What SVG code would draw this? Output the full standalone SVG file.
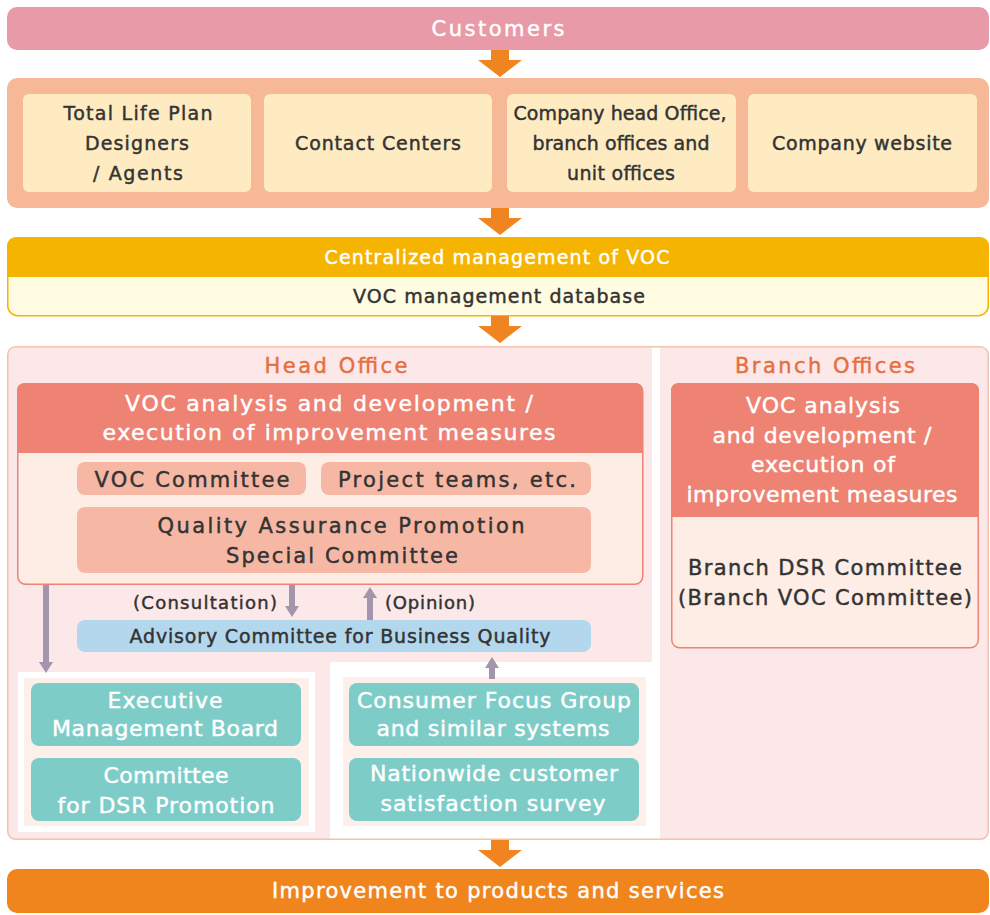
<svg xmlns="http://www.w3.org/2000/svg" width="990" height="915" viewBox="0 0 990 915">
<style>
text{font-family:"DejaVu Sans","Liberation Sans",Arial,sans-serif;text-anchor:middle;stroke-width:0.45px}
.w{fill:#ffffff;stroke:#ffffff}
.d{fill:#333333;stroke:#333333}
.o{fill:#E4703F;stroke:#E4703F}
.f19{font-size:19px}
.f18{font-size:18px}
.f21{font-size:21px}
.f22{font-size:22px}
.chan{fill:#FEEBC1}
.pink{fill:#F6B8A5}
.teal{fill:#7ECCC8}
.oarr{fill:#EF8420}
.garr{fill:#A295AC}
</style>
<rect x="0" y="0" width="990" height="915" fill="#ffffff"/>

<g id="customers">
<rect x="7" y="7" width="982" height="43" rx="10" fill="#E99AA8"/>
<text class="w f21" x="498" y="35.5" textLength="133" lengthAdjust="spacing">Customers</text>
</g>

<g id="channels">
<rect x="7" y="78" width="982" height="130" rx="10" fill="#F6B896"/>
<g id="ch-designers">
<rect class="chan" x="23" y="94" width="228" height="98" rx="6"/>
<text class="d f19" x="138" y="120" textLength="149" lengthAdjust="spacing">Total Life Plan</text>
<text class="d f19" x="137" y="150" textLength="104" lengthAdjust="spacing">Designers</text>
<text class="d f19" x="138" y="180" textLength="90" lengthAdjust="spacing">/ Agents</text>
</g>
<g id="ch-contact">
<rect class="chan" x="264" y="94" width="228" height="98" rx="6"/>
<text class="d f19" x="378" y="150" textLength="166" lengthAdjust="spacing">Contact Centers</text>
</g>
<g id="ch-offices">
<rect class="chan" x="507" y="94" width="229" height="98" rx="6"/>
<text class="d f19" x="620" y="120" textLength="213" lengthAdjust="spacing">Company head Office,</text>
<text class="d f19" x="621" y="150" textLength="177" lengthAdjust="spacing">branch offices and</text>
<text class="d f19" x="621" y="180" textLength="108" lengthAdjust="spacing">unit offices</text>
</g>
<g id="ch-website">
<rect class="chan" x="748" y="94" width="229" height="98" rx="6"/>
<text class="d f19" x="862" y="150" textLength="180" lengthAdjust="spacing">Company website</text>
</g>
</g>

<g id="centralized">
<rect x="7.75" y="237.75" width="980.5" height="78" rx="10" fill="#FFFCE1" stroke="#F5B400" stroke-width="1.5"/>
<path d="M7,277 V247 Q7,237 17,237 H979 Q989,237 989,247 V277 Z" fill="#F5B400"/>
<text class="w f19" x="497" y="264" textLength="345" lengthAdjust="spacing">Centralized management of VOC</text>
<text class="d f19" x="499" y="303" textLength="292" lengthAdjust="spacing">VOC management database</text>
</g>

<g id="panel">
<rect x="7.75" y="346.75" width="980.5" height="492.5" rx="8" fill="#FCE8E8"/>
<rect x="652" y="347" width="8" height="492" fill="#ffffff"/>
<rect x="18" y="672" width="297" height="160" fill="#ffffff"/>
<rect x="24" y="678" width="285" height="148" fill="#FDEFE9"/>
<rect x="330" y="662" width="322" height="177" fill="#ffffff"/>
<rect x="343" y="677" width="303" height="149" fill="#FDEFE9"/>
<rect x="7.75" y="346.75" width="980.5" height="492.5" rx="8" fill="none" stroke="#F3C2AA" stroke-width="1.5"/>
<text class="o f21" x="336" y="372.5" textLength="143" lengthAdjust="spacing">Head Office</text>
<text class="o f21" x="825" y="372.5" textLength="180" lengthAdjust="spacing">Branch Offices</text>
</g>

<g id="ho-analysis">
<rect x="17.75" y="383.75" width="625" height="200.5" rx="8" fill="#FDEDE5" stroke="#EE8273" stroke-width="1.5"/>
<path d="M17,453 V391 Q17,383 25,383 H635 Q643,383 643,391 V453 Z" fill="#EE8273"/>
<text class="w f22" x="329" y="411" textLength="408" lengthAdjust="spacing">VOC analysis and development /</text>
<text class="w f22" x="329" y="440" textLength="453" lengthAdjust="spacing">execution of improvement measures</text>
</g>
<g id="voc-committee">
<rect class="pink" x="77" y="462" width="229" height="33" rx="8"/>
<text class="d f21" x="192" y="486.5" textLength="195" lengthAdjust="spacing">VOC Committee</text>
</g>
<g id="project-teams">
<rect class="pink" x="321" y="462" width="270" height="33" rx="8"/>
<text class="d f21" x="457" y="486.5" textLength="238" lengthAdjust="spacing">Project teams, etc.</text>
</g>
<g id="qa-committee">
<rect class="pink" x="77" y="507" width="514" height="66" rx="8"/>
<text class="d f21" x="341" y="532.5" textLength="367" lengthAdjust="spacing">Quality Assurance Promotion</text>
<text class="d f21" x="342" y="562.5" textLength="232" lengthAdjust="spacing">Special Committee</text>
</g>

<g id="advisory">
<rect x="77" y="620" width="514" height="32" rx="8" fill="#B3D8EE"/>
<text class="d f19" x="340" y="643" textLength="421" lengthAdjust="spacing">Advisory Committee for Business Quality</text>
</g>

<g id="exec-board">
<rect class="teal" x="31" y="683" width="270" height="63" rx="8"/>
<text class="w f22" x="165" y="708" textLength="115" lengthAdjust="spacing">Executive</text>
<text class="w f22" x="165" y="736" textLength="226" lengthAdjust="spacing">Management Board</text>
</g>
<g id="dsr-committee">
<rect class="teal" x="31" y="758" width="270" height="63" rx="8"/>
<text class="w f22" x="166" y="783" textLength="125" lengthAdjust="spacing">Committee</text>
<text class="w f22" x="166" y="813" textLength="217" lengthAdjust="spacing">for DSR Promotion</text>
</g>
<g id="focus-group">
<rect class="teal" x="349" y="683" width="290" height="63" rx="8"/>
<text class="w f22" x="494" y="708" textLength="274" lengthAdjust="spacing">Consumer Focus Group</text>
<text class="w f22" x="493" y="736" textLength="233" lengthAdjust="spacing">and similar systems</text>
</g>
<g id="survey">
<rect class="teal" x="349" y="758" width="290" height="63" rx="8"/>
<text class="w f22" x="494" y="781" textLength="248" lengthAdjust="spacing">Nationwide customer</text>
<text class="w f22" x="493" y="811" textLength="225" lengthAdjust="spacing">satisfaction survey</text>
</g>

<g id="branch-analysis">
<rect x="671.75" y="383.75" width="306.5" height="264" rx="8" fill="#FDEDE5" stroke="#EE8273" stroke-width="1.5"/>
<path d="M671,517 V391 Q671,383 679,383 H971 Q979,383 979,391 V517 Z" fill="#EE8273"/>
<text class="w f22" x="823" y="413" textLength="154" lengthAdjust="spacing">VOC analysis</text>
<text class="w f22" x="822" y="443" textLength="219" lengthAdjust="spacing">and development /</text>
<text class="w f22" x="823" y="472" textLength="144" lengthAdjust="spacing">execution of</text>
<text class="w f22" x="822" y="502" textLength="271" lengthAdjust="spacing">improvement measures</text>
<text class="d f21" x="825" y="574.5" textLength="274" lengthAdjust="spacing">Branch DSR Committee</text>
<text class="d f21" x="825" y="604.5" textLength="294" lengthAdjust="spacing">(Branch VOC Committee)</text>
</g>

<g id="improvement">
<rect x="7" y="869" width="982" height="44" rx="10" fill="#F0851E"/>
<text class="w f21" x="498" y="898" textLength="452" lengthAdjust="spacing">Improvement to products and services</text>
</g>

<g id="connectors">
<path class="oarr" d="M491,50 H509 V60 H522 L500,77 L478,60 H491 Z"/>
<path class="oarr" d="M491,208 H509 V218 H522 L500,235 L478,218 H491 Z"/>
<path class="oarr" d="M491,316 H509 V326 H522 L500,343 L478,326 H491 Z"/>
<path class="oarr" d="M491,840 H509 V850 H522 L500,867 L478,850 H491 Z"/>
<path class="garr" d="M43,585 V662 H39 L46,673 L53,662 H49 V585 Z"/>
<path class="garr" d="M289,585 V606 H285 L292,617 L299,606 H295 V585 Z"/>
<path class="garr" d="M367,620 V598 H363 L370,587 L377,598 H373 V620 Z"/>
<path class="garr" d="M489,679 V668 H485 L492,657 L499,668 H495 V679 Z"/>
<text class="d f18" x="205" y="608.5" textLength="144" lengthAdjust="spacing">(Consultation)</text>
<text class="d f18" x="430" y="608.5" textLength="90" lengthAdjust="spacing">(Opinion)</text>
</g>
</svg>
